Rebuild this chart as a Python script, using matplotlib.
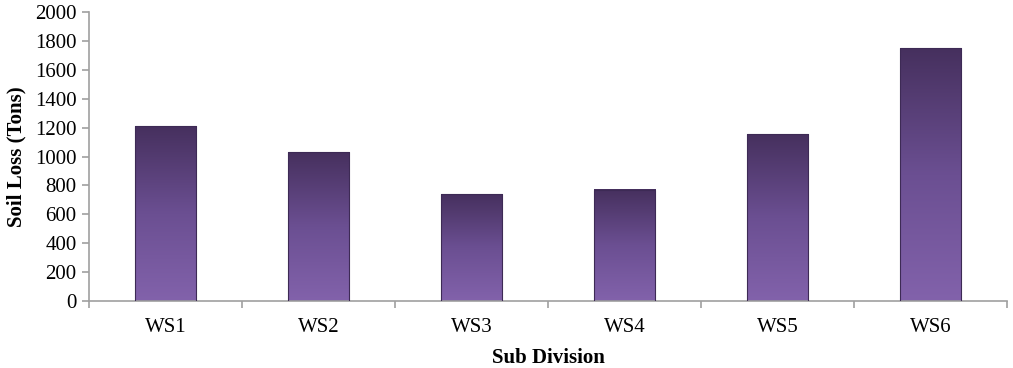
import numpy as np
import matplotlib.pyplot as plt
from matplotlib.colors import LinearSegmentedColormap

# data
categories = ["WS1", "WS2", "WS3", "WS4", "WS5", "WS6"]
soil_loss = [1210, 1030, 740, 770, 1155, 1750]
y_ticks = [0, 200, 400, 600, 800, 1000, 1200, 1400, 1600, 1800, 2000]

plt.rcParams['font.family'] = ['Liberation Serif', 'DejaVu Serif']

fig = plt.figure(figsize=(10.13, 3.68), dpi=100)
ax = fig.add_axes([89 / 1013, 67 / 368, 918 / 1013, 289 / 368])

x = np.arange(len(categories))
bars = ax.bar(x, soil_loss, width=0.4, facecolor='none',
              edgecolor='#3d2a55', linewidth=0.8, zorder=3)

# vertical gradient, dark at top, lighter at bottom
cmap = LinearSegmentedColormap.from_list('purp', ['#8262ab', '#6b4f92', '#46305e'])
grad = np.linspace(0, 1, 256).reshape(-1, 1)
for b in bars:
    x0 = b.get_x()
    ax.imshow(grad, cmap=cmap, origin='lower', aspect='auto',
              extent=[x0, x0 + b.get_width(), 0, b.get_height()], zorder=2)

ax.set_xlim(-0.5, len(categories) - 0.5)
ax.set_ylim(0, 2000)
ax.set_yticks(y_ticks)
ax.set_xticks(x)
ax.set_xticklabels(categories)
ax.set_xticks(np.arange(-0.5, len(categories)), minor=True)

for s in ['top', 'right']:
    ax.spines[s].set_visible(False)
for s in ['left', 'bottom']:
    ax.spines[s].set_color('#a0a0a0')
    ax.spines[s].set_linewidth(1.2)

ax.tick_params(axis='x', which='major', length=0, pad=12, labelsize=15)
ax.tick_params(axis='x', which='minor', length=5, color='#a0a0a0', width=1.2)
ax.tick_params(axis='y', length=5, color='#a0a0a0', width=1.2, labelsize=15, pad=4)

ax.set_ylabel('Soil Loss (Tons)', fontsize=15, fontweight='bold', labelpad=6)
ax.set_xlabel('Sub Division', fontsize=15, fontweight='bold', labelpad=8)

fig.savefig('out.png', dpi=100)
